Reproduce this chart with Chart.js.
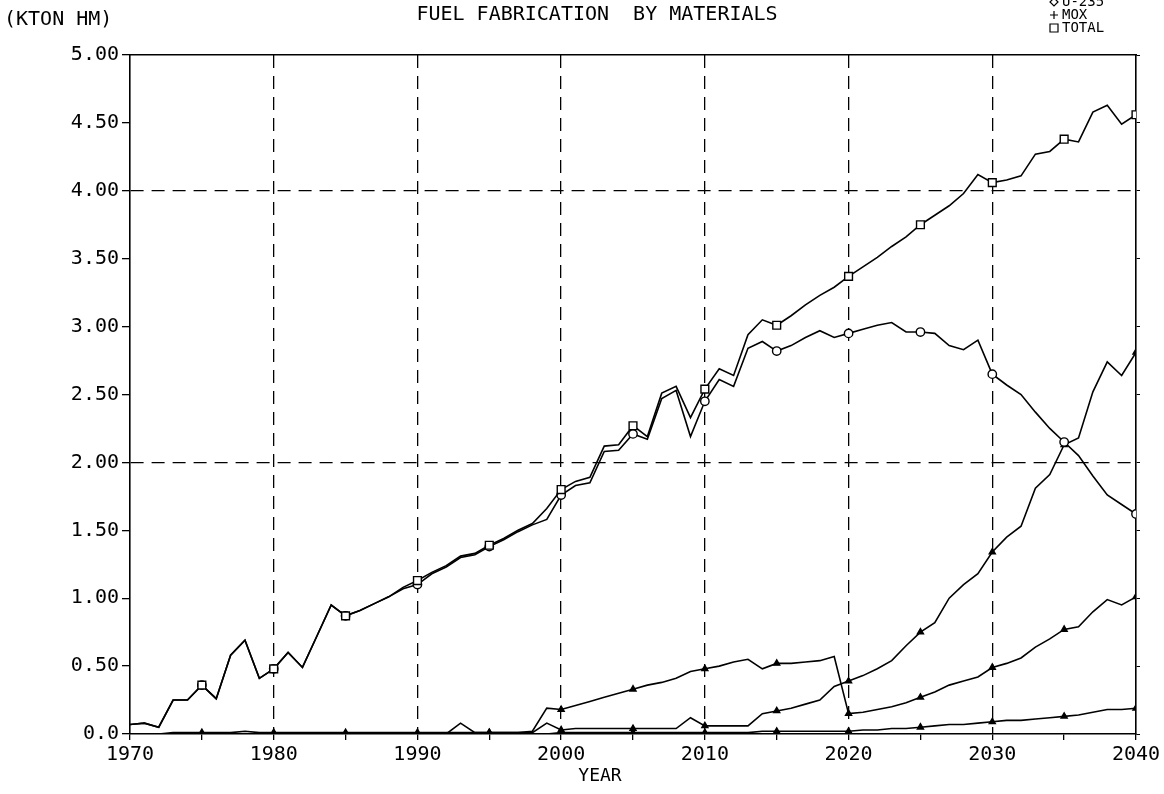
<!DOCTYPE html>
<html>
<head>
<meta charset="utf-8">
<title>Fuel fabrication by materials</title>
<script src="https://cdn.jsdelivr.net/npm/chart.js@4.4.1/dist/chart.umd.min.js"></script>
<style>
    html, body { margin: 0; padding: 0; background: #fff; }
    #wrap { width: 1164px; height: 794px; position: relative; }
</style>
</head>
<body>
<div id="wrap"><canvas id="fuelChart"></canvas></div>
<script>
// years 1970..2040, one point per year
const years = Array.from({ length: 71 }, (_, i) => 1970 + i);

const totalFuel = [
    0.07, 0.08, 0.05, 0.25, 0.25, 0.36, 0.26, 0.58, 0.69, 0.41,
    0.48, 0.60, 0.49, 0.72, 0.95, 0.87, 0.91, 0.96, 1.01, 1.08,
    1.13, 1.19, 1.24, 1.31, 1.33, 1.39, 1.44, 1.50, 1.55, 1.66,
    1.80, 1.86, 1.89, 2.12, 2.13, 2.27, 2.19, 2.51, 2.56, 2.33,
    2.54, 2.69, 2.64, 2.94, 3.05, 3.01, 3.08, 3.16, 3.23, 3.29,
    3.37, 3.44, 3.51, 3.59, 3.66, 3.75, 3.82, 3.89, 3.98, 4.12,
    4.06, 4.08, 4.11, 4.27, 4.29, 4.38, 4.36, 4.58, 4.63, 4.49,
    4.56
];

const u235Fuel = [
    0.07, 0.08, 0.05, 0.25, 0.25, 0.36, 0.26, 0.58, 0.69, 0.41,
    0.48, 0.60, 0.49, 0.72, 0.95, 0.87, 0.91, 0.96, 1.01, 1.07,
    1.10, 1.18, 1.23, 1.30, 1.32, 1.38, 1.43, 1.49, 1.54, 1.58,
    1.76, 1.83, 1.85, 2.08, 2.09, 2.21, 2.17, 2.47, 2.53, 2.19,
    2.45, 2.61, 2.56, 2.84, 2.89, 2.82, 2.86, 2.92, 2.97, 2.92,
    2.95, 2.98, 3.01, 3.03, 2.96, 2.96, 2.95, 2.86, 2.83, 2.90,
    2.65, 2.57, 2.50, 2.37, 2.25, 2.15, 2.05, 1.90, 1.76, 1.69,
    1.62
];

// MOX lines (three curves share the MOX symbol)
const moxFuel = [
    0.00, 0.00, 0.00, 0.01, 0.01, 0.01, 0.01, 0.01, 0.02, 0.01,
    0.01, 0.01, 0.01, 0.01, 0.01, 0.01, 0.01, 0.01, 0.01, 0.01,
    0.01, 0.01, 0.01, 0.01, 0.01, 0.01, 0.01, 0.01, 0.02, 0.19,
    0.18, 0.21, 0.24, 0.27, 0.30, 0.33, 0.36, 0.38, 0.41, 0.46,
    0.48, 0.50, 0.53, 0.55, 0.48, 0.52, 0.52, 0.53, 0.54, 0.57,
    0.15, 0.16, 0.18, 0.20, 0.23, 0.27, 0.31, 0.36, 0.39, 0.42,
    0.49, 0.52, 0.56, 0.64, 0.70, 0.77, 0.79, 0.90, 0.99, 0.95,
    1.01
];

const moxFuel2 = [
    0.00, 0.00, 0.00, 0.00, 0.00, 0.00, 0.00, 0.00, 0.00, 0.00,
    0.00, 0.00, 0.00, 0.00, 0.00, 0.00, 0.00, 0.00, 0.00, 0.00,
    0.00, 0.00, 0.00, 0.08, 0.01, 0.01, 0.01, 0.01, 0.01, 0.08,
    0.03, 0.04, 0.04, 0.04, 0.04, 0.04, 0.04, 0.04, 0.04, 0.12,
    0.06, 0.06, 0.06, 0.06, 0.15, 0.17, 0.19, 0.22, 0.25, 0.35,
    0.39, 0.43, 0.48, 0.54, 0.65, 0.75, 0.82, 1.00, 1.10, 1.18,
    1.34, 1.45, 1.53, 1.81, 1.91, 2.13, 2.18, 2.52, 2.74, 2.64,
    2.81
];

const moxFuel3 = [
    0.00, 0.00, 0.00, 0.00, 0.00, 0.00, 0.00, 0.00, 0.00, 0.00,
    0.00, 0.00, 0.00, 0.00, 0.00, 0.00, 0.00, 0.00, 0.00, 0.00,
    0.00, 0.00, 0.00, 0.00, 0.00, 0.00, 0.00, 0.00, 0.00, 0.00,
    0.01, 0.01, 0.01, 0.01, 0.01, 0.01, 0.01, 0.01, 0.01, 0.01,
    0.01, 0.01, 0.01, 0.01, 0.02, 0.02, 0.02, 0.02, 0.02, 0.02,
    0.02, 0.03, 0.03, 0.04, 0.04, 0.05, 0.06, 0.07, 0.07, 0.08,
    0.09, 0.10, 0.10, 0.11, 0.12, 0.13, 0.14, 0.16, 0.18, 0.18,
    0.19
];

const chartTitle = 'FUEL FABRICATION  BY MATERIALS';
const yUnit = '(KTON HM)';
const xTitle = 'YEAR';
const legendItems = [
    { label: 'U-235', symbol: 'diamond' },
    { label: 'MOX', symbol: 'plus' },
    { label: 'TOTAL', symbol: 'square' }
];

const FONT = '"DejaVu Sans Mono", "Liberation Mono", monospace';
const tickFont = { family: FONT, size: 20 };

// marker only every 5 years (not on the first one), like the plotter did
function markEvery5(size) {
    return (ctx) => {
        const yr = years[ctx.dataIndex];
        return yr % 5 === 0 && yr > 1970 ? size : 0;
    };
}

function makeLine(label, data, style, size, fill) {
    return {
        label: label,
        data: data,
        borderColor: '#000',
        borderWidth: 1.6,
        tension: 0,
        fill: false,
        pointStyle: style,
        pointRadius: markEvery5(size),
        pointHoverRadius: markEvery5(size),
        pointBackgroundColor: fill,
        pointBorderColor: '#000',
        pointBorderWidth: 1.4
    };
}

const plotText = {
    id: 'plotText',
    afterDraw(chart) {
        const ctx = chart.ctx;
        ctx.save();
        ctx.fillStyle = '#000';
        ctx.strokeStyle = '#000';
        ctx.textBaseline = 'middle';

        ctx.font = '20px ' + FONT;
        ctx.textAlign = 'center';
        ctx.fillText(chartTitle, 597, 15);
        ctx.textAlign = 'left';
        ctx.fillText(yUnit, 4, 20);

        ctx.font = '18px ' + FONT;
        ctx.textAlign = 'center';
        ctx.fillText(xTitle, 600, 776);

        // little legend, top right corner
        ctx.font = '14px ' + FONT;
        ctx.textAlign = 'left';
        ctx.lineWidth = 1.2;
        legendItems.forEach((item, i) => {
            const y = 2 + i * 13;
            const x = 1054;
            ctx.beginPath();
            if (item.symbol === 'diamond') {
                ctx.moveTo(x, y - 4);
                ctx.lineTo(x + 4, y);
                ctx.lineTo(x, y + 4);
                ctx.lineTo(x - 4, y);
                ctx.closePath();
            } else if (item.symbol === 'plus') {
                ctx.moveTo(x - 4, y);
                ctx.lineTo(x + 4, y);
                ctx.moveTo(x, y - 4);
                ctx.lineTo(x, y + 4);
            } else {
                ctx.rect(x - 4, y - 4, 8, 8);
            }
            ctx.stroke();
            ctx.fillText(item.label, x + 8, y);
        });
        ctx.restore();
    }
};

function decadeGrid(c) {
    const v = c.tick ? c.tick.value : null;
    return v !== null && v % 10 === 0 && v > 1970 && v < 2040 ? '#000' : 'rgba(0,0,0,0)';
}

function levelGrid(c) {
    const v = c.tick ? c.tick.value : null;
    return v === 2 || v === 4 ? '#000' : 'rgba(0,0,0,0)';
}

const chart = new Chart(document.getElementById('fuelChart'), {
    type: 'line',
    data: {
        labels: years,
        datasets: [
            makeLine('TOTAL', totalFuel, 'rect', 5.5, '#fff'),
            makeLine('U-235', u235Fuel, 'circle', 4.2, '#fff'),
            makeLine('MOX', moxFuel, 'triangle', 3.5, '#000'),
            makeLine('MOX', moxFuel2, 'triangle', 3.5, '#000'),
            makeLine('MOX', moxFuel3, 'triangle', 3.5, '#000')
        ]
    },
    options: {
        responsive: true,
        maintainAspectRatio: false,
        animation: false,
        layout: { padding: 0 },
        plugins: {
            legend: { display: false },
            title: { display: false },
            tooltip: { enabled: false }
        },
        scales: {
            x: {
                type: 'linear',
                position: 'bottom',
                min: 1970,
                max: 2040,
                ticks: {
                    stepSize: 5,
                    autoSkip: false,
                    maxRotation: 0,
                    padding: 3,
                    color: '#000',
                    font: tickFont,
                    callback: (v) => v % 10 === 0 ? String(v) : ''
                },
                grid: { color: decadeGrid, lineWidth: 1.3, tickColor: '#000', tickLength: 6, tickWidth: 1.3 },
                border: { color: '#000', width: 1.6, dash: [13, 8] },
                afterFit: (s) => { s.height = 60; }
            },
            xTop: {
                type: 'linear',
                position: 'top',
                min: 1970,
                max: 2040,
                ticks: { display: false },
                grid: { drawOnChartArea: false, drawTicks: false },
                border: { color: '#000', width: 1.6 },
                afterFit: (s) => { s.height = 55; }
            },
            y: {
                position: 'left',
                min: 0,
                max: 5,
                ticks: {
                    stepSize: 0.5,
                    padding: 3,
                    color: '#000',
                    font: tickFont,
                    callback: (v) => v === 0 ? '0.0' : v.toFixed(2)
                },
                grid: { color: levelGrid, lineWidth: 1.3, tickColor: '#000', tickLength: 8, tickWidth: 1.3 },
                border: { color: '#000', width: 1.6, dash: [13, 8] },
                afterFit: (s) => { s.width = 130; }
            },
            yRight: {
                position: 'right',
                min: 0,
                max: 5,
                ticks: { display: false, stepSize: 0.5 },
                grid: { drawOnChartArea: false, tickColor: '#000', tickLength: 4, tickWidth: 1 },
                border: { color: '#000', width: 1.6 },
                afterFit: (s) => { s.width = 28; }
            }
        }
    },
    plugins: [plotText]
});
</script>
</body>
</html>
